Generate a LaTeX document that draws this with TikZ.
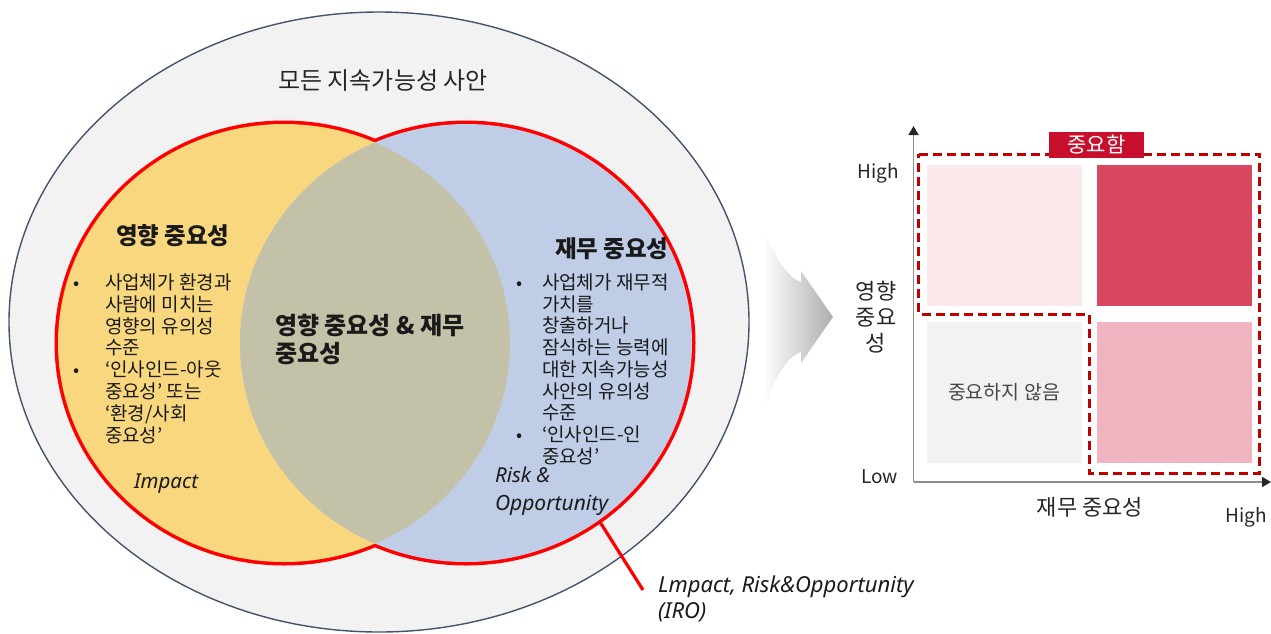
\documentclass[tikz,border=0pt]{standalone}
\usepackage{fontspec}
\setmainfont{Noto Sans CJK KR}
\newfontfamily\latinit{Noto Sans}
\usetikzlibrary{arrows.meta}
\definecolor{outerfill}{HTML}{F2F2F2}
\definecolor{outerline}{HTML}{44546A}
\definecolor{yel}{HTML}{F9D77E}
\definecolor{blu}{HTML}{BFCDE7}
\definecolor{lens}{HTML}{C3C1A8}
\definecolor{vred}{HTML}{FF0000}
\definecolor{qtl}{HTML}{FBE9EB}
\definecolor{qtr}{HTML}{D9465F}
\definecolor{qbl}{HTML}{F2F2F2}
\definecolor{qbr}{HTML}{F0B4C0}
\definecolor{dred}{HTML}{C00000}
\definecolor{labred}{HTML}{C8102E}
\definecolor{axisgray}{HTML}{8C8C8C}
\definecolor{ink}{HTML}{1A1A1A}
\definecolor{ink2}{HTML}{262626}
\begin{document}
\begin{tikzpicture}[x=1pt,y=-1pt,
  txt/.style={inner sep=0pt, outer sep=0pt, text=ink, anchor=base west, font=\fontsize{19}{22}\selectfont},
  head/.style={inner sep=0pt, outer sep=0pt, text=ink, anchor=base west, font=\fontsize{23.5}{28}\selectfont\bfseries},
  itl/.style={inner sep=0pt, outer sep=0pt, text=ink, anchor=base west, font=\fontsize{20.5}{24}\selectfont\latinit\itshape},
  bul/.style={inner sep=0pt, outer sep=0pt, text=ink, anchor=base, font=\fontsize{18}{22}\selectfont},
  axlbl/.style={inner sep=0pt, outer sep=0pt, text=ink2, font=\fontsize{22}{26}\selectfont},
  quad/.style={inner sep=0pt, outer sep=0pt, minimum width=155pt, minimum height=141pt},
  venn/.style={x radius=226, y radius=219},
  axis/.style={draw=axisgray, line width=1.8pt, -{Triangle[length=9pt,width=10pt,color=black!85]}},
]
\useasboundingbox (0,0) rectangle (1271,633);

% outer ellipse
\draw[fill=outerfill, draw=outerline, line width=1.4pt] (379,322) ellipse [x radius=370, y radius=310];

% Venn circles: outline of the union only
\draw[vred, line width=7pt] (284,343) ellipse [venn];
\draw[vred, line width=7pt] (466,343) ellipse [venn];
\fill[yel] (284,343) ellipse [venn];
\fill[blu] (466,343) ellipse [venn];
\begin{scope}
  \clip (284,343) ellipse [venn];
  \fill[lens] (466,343) ellipse [venn];
\end{scope}

% title
\node[inner sep=0pt, text=ink2, anchor=base, font=\fontsize{24}{28}\selectfont] (title) at (383,89) {모든 지속가능성 사안};

% left set
\node[head] (lhead) at (116,244) {영향 중요성};
\node[bul] (lb1) at (77,289.5) {•};
\node[txt] (l1) at (105,289.5) {사업체가 환경과};
\node[txt] (l2) at (105,311.3) {사람에 미치는};
\node[txt] (l3) at (105,333.1) {영향의 유의성};
\node[txt] (l4) at (105,354.9) {수준};
\node[bul] (lb2) at (77,376.7) {•};
\node[txt] (l5) at (105,376.7) {‘인사인드-아웃};
\node[txt] (l6) at (105,398.5) {중요성’ 또는};
\node[txt] (l7) at (105,420.3) {‘환경/사회};
\node[txt] (l8) at (105,442.1) {중요성’};
\node[itl] (impact) at (134,488) {Impact};

% centre
\node[head, font=\fontsize{24}{28}\selectfont\bfseries] (c1) at (275,334) {영향 중요성 \& 재무};
\node[head, font=\fontsize{24}{28}\selectfont\bfseries] (c2) at (275,362) {중요성};

% right set
\node[head] (rhead) at (555,257) {재무 중요성};
\node[bul] (rb1) at (520,289.5) {•};
\node[txt] (r1) at (542,289.5) {사업체가 재무적};
\node[txt] (r2) at (542,311.2) {가치를};
\node[txt] (r3) at (542,332.9) {창출하거나};
\node[txt] (r4) at (542,354.6) {잠식하는 능력에};
\node[txt] (r5) at (542,376.3) {대한 지속가능성};
\node[txt] (r6) at (542,398) {사안의 유의성};
\node[txt] (r7) at (542,419.7) {수준};
\node[bul] (rb2) at (520,441.4) {•};
\node[txt] (r8) at (542,441.4) {‘인사인드-인};
\node[txt] (r9) at (542,463.1) {중요성’};
\node[itl] (risk) at (495,482) {Risk \&};
\node[itl, font=\fontsize{21}{24}\selectfont\latinit\itshape] (opp) at (495,510) {Opportunity};

% IRO leader
\coordinate (iroS) at (600,522);
\coordinate (iroE) at (643,590);
\draw[vred, line width=3.2pt] (iroS) -- (iroE);
\node[itl, font=\fontsize{22}{26}\selectfont\latinit\itshape] (iro1) at (658,592) {Lmpact, Risk\&Opportunity};
\node[itl, font=\fontsize{22}{26}\selectfont\latinit\itshape] (iro2) at (658,618) {(IRO)};

% big gray arrow
\shade[left color=white, right color=black!32]
  (763,227) .. controls (772,250) and (785,277) .. (801,282) -- (801,271) -- (833,317)
  -- (801,363) -- (801,352) .. controls (785,357) and (772,384) .. (763,413) -- cycle;

% matrix quadrants
\node[quad, fill=qtl] (qTL) at (1004.5,235.5) {};
\node[quad, fill=qtr] (qTR) at (1174.5,235.5) {};
\node[quad, fill=qbl, text=ink2!85, font=\fontsize{19.5}{23}\selectfont] (qBL) at (1004,392.5) {중요하지 않음};
\node[quad, fill=qbr] (qBR) at (1174.5,392.5) {};

% important region
\draw[dred, line width=3pt, dash pattern=on 9pt off 5pt]
  (918.5,154) -- (1259.5,154) -- (1259.5,473) -- (1089,473) -- (1089,314) -- (918.5,314) -- cycle;
\node[fill=labred, text=white, inner sep=0pt, minimum width=95pt, minimum height=26pt,
      font=\fontsize{21}{24}\selectfont] (imp) at (1096.5,145) {중요함};

% axes
\coordinate (O) at (913.5,482);
\coordinate (ytip) at (913.5,126);
\coordinate (xtip) at (1271,482);
\draw[axis] (O) -- (ytip);
\draw[axis] (O) -- (xtip);

% axis labels
\node[axlbl, anchor=base east, font=\fontsize{19}{23}\selectfont] (yhigh) at (899,178) {High};
\node[axlbl, anchor=base east, font=\fontsize{19}{23}\selectfont] (ylow) at (898,483) {Low};
\node[axlbl, anchor=base] (ylab1) at (876,299.5) {영향};
\node[axlbl, anchor=base] (ylab2) at (876,325.5) {중요};
\node[axlbl, anchor=base] (ylab3) at (876,351) {성};
\node[axlbl, anchor=base] (xlab) at (1090,515) {재무 중요성};
\node[axlbl, anchor=base, font=\fontsize{19}{23}\selectfont] (xhigh) at (1246,522) {High};
\end{tikzpicture}
\end{document}
